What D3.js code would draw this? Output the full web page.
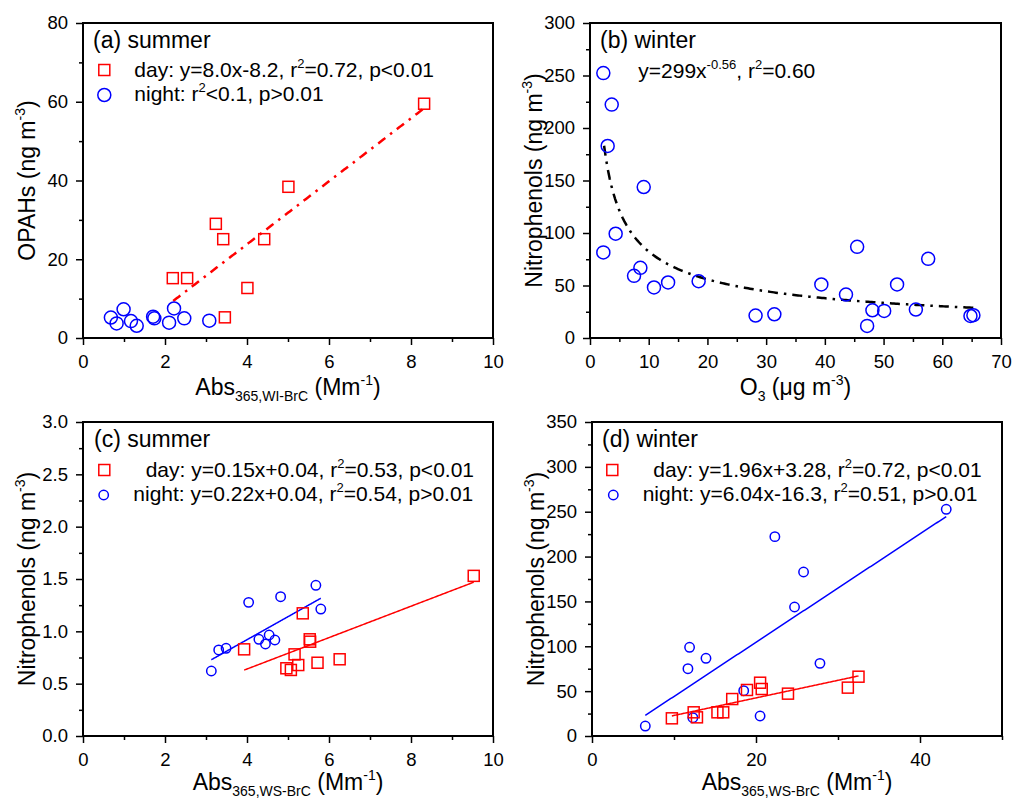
<!DOCTYPE html>
<html>
<head>
<meta charset="utf-8">
<script src="https://cdn.jsdelivr.net/npm/d3@7"></script>
<style>
  html, body { margin: 0; padding: 0; background: #fff; }
  svg { display: block; font-family: "Liberation Sans", Arial, sans-serif; }
</style>
</head>
<body>
<svg id="chart" width="1013" height="800"></svg>
<script>
// ---- (a) summer: OPAHs vs Abs365,WI-BrC ----
const aDayX   = [8.32, 5.01, 3.24, 3.42, 4.42, 2.19, 2.54, 4.01, 3.46];
const aDayY   = [59.5, 38.4, 29.0, 25.1, 25.1, 15.2, 15.2, 12.7, 5.25];
const aNightX = [0.68, 0.82, 0.99, 1.17, 1.31, 1.71, 1.74, 2.10, 2.22, 2.47, 3.08];
const aNightY = [5.2, 3.7, 7.3, 4.3, 3.1, 5.4, 5.0, 3.9, 7.5, 5.0, 4.4];
const aFit    = { slope: 8.0, intercept: -8.2, from: 2.2, to: 8.3 };

// ---- (b) winter: nitrophenols vs O3 ----
const bX = [2.27, 3.70, 3.01, 9.15, 4.37, 2.27, 8.58, 7.50, 10.9, 13.3, 18.5, 28.2,
            31.4, 39.4, 43.6, 45.5, 47.2, 48.1, 50.1, 52.3, 55.5, 57.6, 64.8, 65.3];
const bY = [252.3, 222.3, 182.9, 143.8, 99.3, 81.5, 66.8, 59.2, 48.1, 52.9, 54.1, 21.4,
            22.6, 51.0, 41.4, 86.8, 11.5, 26.4, 25.8, 51.0, 27.1, 75.4, 21.0, 21.7];
const bFit = { coef: 299, power: -0.56, from: 2.4, to: 65.3 };

// ---- (c) summer: nitrophenols vs Abs365,WS-BrC ----
const cDayX   = [9.53, 3.93, 5.36, 5.53, 5.54, 5.16, 5.25, 4.96, 5.07, 5.72, 6.26];
const cDayY   = [1.53, 0.828, 1.172, 0.924, 0.901, 0.78, 0.678, 0.647, 0.631, 0.70, 0.733];
const cNightX = [3.13, 3.31, 3.49, 4.04, 4.29, 4.45, 4.54, 4.68, 4.82, 5.68, 5.80];
const cNightY = [0.621, 0.822, 0.838, 1.277, 0.924, 0.879, 0.965, 0.917, 1.331, 1.44, 1.213];
const cDayFit   = { slope: 0.15, intercept: 0.04, from: 3.93, to: 9.53 };
const cNightFit = { slope: 0.22, intercept: 0.04, from: 3.13, to: 5.80 };

// ---- (d) winter: nitrophenols vs Abs365,WS-BrC ----
const dDayX   = [32.5, 31.2, 23.9, 20.5, 20.7, 18.9, 17.1, 16.0, 15.3, 12.4, 12.8, 9.74];
const dDayY   = [66.1, 53.9, 47.2, 59.4, 52.4, 51.3, 41.2, 26.4, 26.4, 26.4, 20.8, 19.7];
const dNightX = [43.2, 22.3, 25.8, 24.7, 11.9, 11.7, 13.9, 27.8, 18.5, 20.5, 12.3, 6.5];
const dNightY = [252.7, 222.2, 182.8, 143.8, 98.9, 75.0, 86.6, 81.0, 50.5, 22.3, 20.4, 11.1];
const dDayFit   = { slope: 1.96, intercept: 3.28, from: 9.74, to: 32.5 };
const dNightFit = { slope: 6.04, intercept: -16.3, from: 6.5, to: 43.2 };

// ---- tick settings ----
const aXTicks = [0, 2, 4, 6, 8, 10], aXMinor = [1, 3, 5, 7, 9];
const aYTicks = [0, 20, 40, 60, 80], aYMinor = [10, 30, 50, 70];
const bXTicks = [0, 10, 20, 30, 40, 50, 60, 70], bXMinor = [5, 15, 25, 35, 45, 55, 65];
const bYTicks = [0, 50, 100, 150, 200, 250, 300], bYMinor = [25, 75, 125, 175, 225, 275];
const cXTicks = [0, 2, 4, 6, 8, 10], cXMinor = [1, 3, 5, 7, 9];
const cYTicks = [0, 0.5, 1.0, 1.5, 2.0, 2.5, 3.0], cYMinor = [0.25, 0.75, 1.25, 1.75, 2.25, 2.75];
const dXTicks = [0, 20, 40], dXMinor = [10, 30, 50];
const dYTicks = [0, 50, 100, 150, 200, 250, 300, 350], dYMinor = [25, 75, 125, 175, 225, 275, 325];

const RED = "#ff0000", BLUE = "#0000ff";
const svg = d3.select("#chart");

// Rich text helper: parts with optional sup / sub
function rich(sel, parts, size) {
  const small = Math.round(size * 0.62);
  let shift = 0;
  parts.forEach(p => {
    const t = sel.append("tspan").text(p.t);
    let target = 0, fs = size;
    if (p.sup) { target = -size * 0.42; fs = small; }
    if (p.sub) { target = size * 0.28; fs = small; }
    t.attr("font-size", fs);
    const dy = target - shift;
    if (dy !== 0) t.attr("dy", dy);
    shift = target;
  });
}

function panel(cfg) {
  const g = svg.append("g");
  const x = d3.scaleLinear().domain(cfg.xDomain).range([cfg.left, cfg.right]);
  const y = d3.scaleLinear().domain(cfg.yDomain).range([cfg.bottom, cfg.top]);

  // axes: major ticks with labels, minor ticks without
  g.append("g").attr("transform", `translate(0,${cfg.bottom})`)
    .call(d3.axisBottom(x).tickValues(cfg.xTicks).tickSize(7).tickPadding(10).tickFormat(cfg.xFmt));
  g.append("g").attr("transform", `translate(0,${cfg.bottom})`)
    .call(d3.axisBottom(x).tickValues(cfg.xMinor).tickSize(4).tickFormat(""));
  g.append("g").attr("transform", `translate(${cfg.left},0)`)
    .call(d3.axisLeft(y).tickValues(cfg.yTicks).tickSize(7).tickPadding(8).tickFormat(cfg.yFmt));
  g.append("g").attr("transform", `translate(${cfg.left},0)`)
    .call(d3.axisLeft(y).tickValues(cfg.yMinor).tickSize(4).tickFormat(""));
  g.selectAll(".domain").remove();
  g.selectAll(".tick line").attr("stroke", "#000").attr("stroke-width", 1.5);
  g.selectAll(".tick text").attr("font-size", 18.5).attr("fill", "#000")
    .attr("font-family", "Liberation Sans, Arial, sans-serif");

  // clip for plot content
  const clipId = "clip" + cfg.id;
  g.append("clipPath").attr("id", clipId).append("rect")
    .attr("x", cfg.left).attr("y", cfg.top)
    .attr("width", cfg.right - cfg.left).attr("height", cfg.bottom - cfg.top);
  const plot = g.append("g").attr("clip-path", `url(#${clipId})`);

  // fit lines
  (cfg.fits || []).forEach(f => {
    const xs = d3.range(0, 201).map(i => f.from + (f.to - f.from) * i / 200);
    const line = d3.line().x(v => x(v)).y(v => y(f.fn(v)));
    plot.append("path").datum(xs).attr("d", line)
      .attr("fill", "none").attr("stroke", f.color)
      .attr("stroke-width", f.width).attr("stroke-dasharray", f.dash || null);
  });

  // markers
  (cfg.series || []).forEach(s => {
    const pts = s.xs.map((v, i) => [v, s.ys[i]]);
    if (s.shape === "square") {
      plot.selectAll(null).data(pts).enter().append("rect")
        .attr("x", d => x(d[0]) - s.size / 2).attr("y", d => y(d[1]) - s.size / 2)
        .attr("width", s.size).attr("height", s.size)
        .attr("fill", "none").attr("stroke", s.color).attr("stroke-width", 1.5);
    } else {
      plot.selectAll(null).data(pts).enter().append("circle")
        .attr("cx", d => x(d[0])).attr("cy", d => y(d[1])).attr("r", s.size)
        .attr("fill", "none").attr("stroke", s.color).attr("stroke-width", 1.5);
    }
  });

  // frame
  g.append("rect").attr("x", cfg.left).attr("y", cfg.top)
    .attr("width", cfg.right - cfg.left).attr("height", cfg.bottom - cfg.top)
    .attr("fill", "none").attr("stroke", "#000").attr("stroke-width", 2);

  // axis titles
  const xt = g.append("text").attr("x", (cfg.left + cfg.right) / 2).attr("y", cfg.bottom + cfg.xTitleDy)
    .attr("text-anchor", "middle").attr("font-size", 23);
  rich(xt, cfg.xTitle, 23);
  const yt = g.append("text")
    .attr("transform", `translate(${cfg.left - 48},${(cfg.top + cfg.bottom) / 2}) rotate(-90)`)
    .attr("text-anchor", "middle").attr("font-size", 23);
  rich(yt, cfg.yTitle, 23);

  // panel label
  g.append("text").attr("x", cfg.left + cfg.titleDx).attr("y", cfg.top + 25)
    .attr("font-size", 23).text(cfg.title);

  // legend
  (cfg.legend || []).forEach(it => {
    if (it.shape === "square") {
      g.append("rect").attr("x", cfg.left + it.sx - it.size / 2).attr("y", cfg.top + it.sy - it.size / 2)
        .attr("width", it.size).attr("height", it.size)
        .attr("fill", "none").attr("stroke", it.color).attr("stroke-width", 1.5);
    } else if (it.shape === "circle") {
      g.append("circle").attr("cx", cfg.left + it.sx).attr("cy", cfg.top + it.sy).attr("r", it.size)
        .attr("fill", "none").attr("stroke", it.color).attr("stroke-width", 1.5);
    }
    const t = g.append("text").attr("x", cfg.left + it.tx).attr("y", cfg.top + it.ty)
      .attr("font-size", 21);
    rich(t, it.text, 21);
  });
}

const fmtInt = d3.format("d");
const fmt1 = d3.format(".1f");
const absWI = [{ t: "Abs" }, { t: "365,WI-BrC", sub: true }, { t: " (Mm" }, { t: "-1", sup: true }, { t: ")" }];
const absWS = [{ t: "Abs" }, { t: "365,WS-BrC", sub: true }, { t: " (Mm" }, { t: "-1", sup: true }, { t: ")" }];
const ngm3 = name => [{ t: name + " (ng m" }, { t: "-3", sup: true }, { t: ")" }];
const lin = f => v => f.slope * v + f.intercept;

panel({
  id: "a", left: 83, right: 493, top: 23, bottom: 338, xTitleDy: 57,
  xDomain: [0, 10], yDomain: [0, 80],
  xTicks: aXTicks, xMinor: aXMinor, yTicks: aYTicks, yMinor: aYMinor,
  xFmt: fmtInt, yFmt: fmtInt,
  xTitle: absWI, yTitle: ngm3("OPAHs"),
  title: "(a) summer", titleDx: 10,
  fits: [{ fn: lin(aFit), from: aFit.from, to: aFit.to, color: RED, width: 2.5, dash: "9,6,2.5,6" }],
  series: [
    { xs: aNightX, ys: aNightY, shape: "circle", size: 6.5, color: BLUE },
    { xs: aDayX, ys: aDayY, shape: "square", size: 11, color: RED }
  ],
  legend: [
    { shape: "square", size: 11, color: RED, sx: 21.3, sy: 47, tx: 51.3, ty: 54,
      text: [{ t: "day: y=8.0x-8.2, r" }, { t: "2", sup: true }, { t: "=0.72, p<0.01" }] },
    { shape: "circle", size: 6.5, color: BLUE, sx: 21.3, sy: 72, tx: 51.3, ty: 78,
      text: [{ t: "night: r" }, { t: "2", sup: true }, { t: "<0.1, p>0.01" }] }
  ]
});

panel({
  id: "b", left: 590, right: 1001, top: 23, bottom: 338, xTitleDy: 57,
  xDomain: [0, 70], yDomain: [0, 300],
  xTicks: bXTicks, xMinor: bXMinor, yTicks: bYTicks, yMinor: bYMinor,
  xFmt: fmtInt, yFmt: fmtInt,
  xTitle: [{ t: "O" }, { t: "3", sub: true }, { t: " (\u03bcg m" }, { t: "-3", sup: true }, { t: ")" }],
  yTitle: ngm3("Nitrophenols"),
  title: "(b) winter", titleDx: 10,
  fits: [{ fn: v => bFit.coef * Math.pow(v, bFit.power), from: bFit.from, to: bFit.to,
           color: "#000", width: 2.5, dash: "10,6,2.5,6" }],
  series: [{ xs: bX, ys: bY, shape: "circle", size: 6.5, color: BLUE }],
  legend: [
    { shape: null, tx: 48.3, ty: 55,
      text: [{ t: "y=299x" }, { t: "-0.56", sup: true }, { t: ", r" }, { t: "2", sup: true }, { t: "=0.60" }] }
  ]
});

panel({
  id: "c", left: 83, right: 493, top: 422, bottom: 736, xTitleDy: 54,
  xDomain: [0, 10], yDomain: [0, 3],
  xTicks: cXTicks, xMinor: cXMinor, yTicks: cYTicks, yMinor: cYMinor,
  xFmt: fmtInt, yFmt: fmt1,
  xTitle: absWS, yTitle: ngm3("Nitrophenols"),
  title: "(c) summer", titleDx: 11,
  fits: [
    { fn: lin(cNightFit), from: cNightFit.from, to: cNightFit.to, color: BLUE, width: 1.5 },
    { fn: lin(cDayFit), from: cDayFit.from, to: cDayFit.to, color: RED, width: 1.5 }
  ],
  series: [
    { xs: cNightX, ys: cNightY, shape: "circle", size: 4.7, color: BLUE },
    { xs: cDayX, ys: cDayY, shape: "square", size: 11, color: RED }
  ],
  legend: [
    { shape: "square", size: 11, color: RED, sx: 21.3, sy: 48, tx: 62.7, ty: 55,
      text: [{ t: "day: y=0.15x+0.04, r" }, { t: "2", sup: true }, { t: "=0.53, p<0.01" }] },
    { shape: "circle", size: 4.7, color: BLUE, sx: 20.7, sy: 73, tx: 50.3, ty: 79,
      text: [{ t: "night: y=0.22x+0.04, r" }, { t: "2", sup: true }, { t: "=0.54, p>0.01" }] }
  ]
});

panel({
  id: "d", left: 592, right: 1002, top: 422, bottom: 736, xTitleDy: 54,
  xDomain: [0, 50], yDomain: [0, 350],
  xTicks: dXTicks, xMinor: dXMinor, yTicks: dYTicks, yMinor: dYMinor,
  xFmt: fmtInt, yFmt: fmtInt,
  xTitle: absWS, yTitle: ngm3("Nitrophenols"),
  title: "(d) winter", titleDx: 10,
  fits: [
    { fn: lin(dNightFit), from: dNightFit.from, to: dNightFit.to, color: BLUE, width: 1.5 },
    { fn: lin(dDayFit), from: dDayFit.from, to: dDayFit.to, color: RED, width: 1.5 }
  ],
  series: [
    { xs: dNightX, ys: dNightY, shape: "circle", size: 4.7, color: BLUE },
    { xs: dDayX, ys: dDayY, shape: "square", size: 11, color: RED }
  ],
  legend: [
    { shape: "square", size: 11, color: RED, sx: 20.3, sy: 48, tx: 61.3, ty: 55,
      text: [{ t: "day: y=1.96x+3.28, r" }, { t: "2", sup: true }, { t: "=0.72, p<0.01" }] },
    { shape: "circle", size: 4.7, color: BLUE, sx: 21.3, sy: 73, tx: 50.7, ty: 79,
      text: [{ t: "night: y=6.04x-16.3, r" }, { t: "2", sup: true }, { t: "=0.51, p>0.01" }] }
  ]
});
</script>
</body>
</html>
